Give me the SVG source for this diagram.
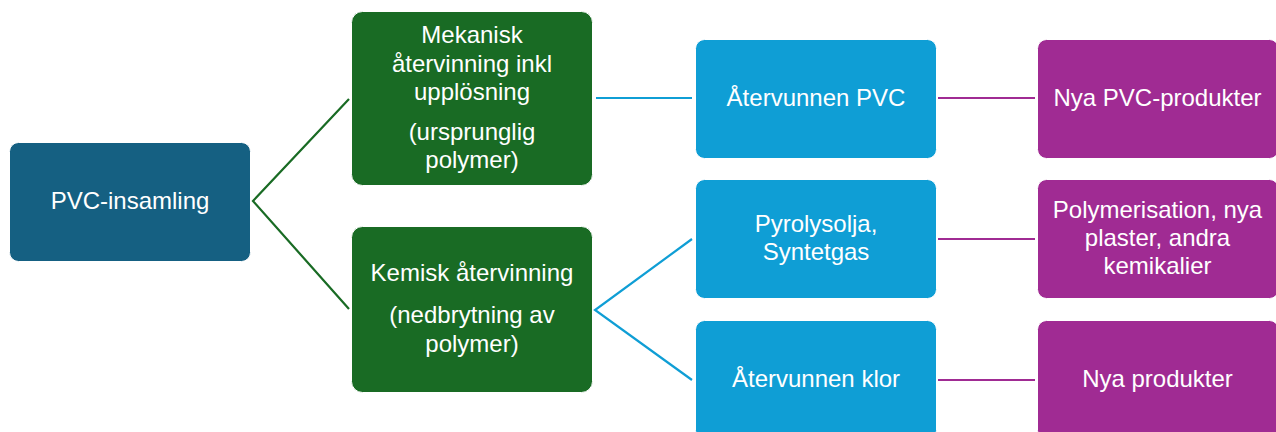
<svg xmlns="http://www.w3.org/2000/svg" width="1276" height="432" viewBox="0 0 1276 432">
<style>
.n rect{stroke:#ffffff;stroke-width:1}
.c1 rect{fill:#156082}
.c3 rect{fill:#196B24}
.c4 rect{fill:#0F9ED5}
.c5 rect{fill:#A02B93}
text{font-family:"Liberation Sans",Arial,sans-serif;font-size:24px;fill:#ffffff;text-anchor:middle}
.e{fill:none;stroke-width:2.2}
.eg{stroke:#196B24}
.eb{stroke:#0F9ED5}
.ep{stroke:#A02B93}
</style>
<rect width="1276" height="432" fill="#ffffff"/>
<g id="connectors">
<polyline class="e eg" points="349,99 253,201 349,309"/>
<line class="e eb" x1="596" y1="98" x2="692" y2="98"/>
<polyline class="e eb" points="692,239 595,310 692,380"/>
<line class="e ep" x1="938" y1="98" x2="1035" y2="98"/>
<line class="e ep" x1="938" y1="239" x2="1035" y2="239"/>
<line class="e ep" x1="938" y1="380" x2="1035" y2="380"/>
</g>
<g id="n-insamling" class="n c1"><rect x="9.5" y="142.5" width="241" height="119" rx="9"/><text x="130" y="209">PVC-insamling</text></g>
<g id="n-mekanisk" class="n c3"><rect x="351.5" y="11.5" width="241" height="174" rx="11"/>
<text x="472" y="43">Mekanisk</text><text x="472" y="71.5">återvinning inkl</text><text x="472" y="100">upplösning</text><text x="472" y="140">(ursprunglig</text><text x="472" y="168">polymer)</text></g>
<g id="n-kemisk" class="n c3"><rect x="351.5" y="226.5" width="241" height="166" rx="11"/>
<text x="472" y="281">Kemisk återvinning</text><text x="472" y="323">(nedbrytning av</text><text x="472" y="352">polymer)</text></g>
<g id="n-atervunnen-pvc" class="n c4"><rect x="695.5" y="39.5" width="241" height="119" rx="9"/><text x="816" y="106">Återvunnen PVC</text></g>
<g id="n-pyrolysolja" class="n c4"><rect x="695.5" y="179.5" width="241" height="119" rx="9"/><text x="816" y="232">Pyrolysolja,</text><text x="816" y="260">Syntetgas</text></g>
<g id="n-klor" class="n c4"><rect x="695.5" y="320.5" width="241" height="119" rx="9"/><text x="816" y="387">Återvunnen klor</text></g>
<g id="n-nya-pvc" class="n c5"><rect x="1037.5" y="39.5" width="241" height="119" rx="9"/><text x="1157.5" y="106">Nya PVC-produkter</text></g>
<g id="n-polymerisation" class="n c5"><rect x="1037.5" y="179.5" width="241" height="119" rx="9"/><text x="1157.5" y="218">Polymerisation, nya</text><text x="1157.5" y="246">plaster, andra</text><text x="1157.5" y="274">kemikalier</text></g>
<g id="n-nya-produkter" class="n c5"><rect x="1037.5" y="320.5" width="241" height="119" rx="9"/><text x="1157.5" y="387">Nya produkter</text></g>
</svg>
